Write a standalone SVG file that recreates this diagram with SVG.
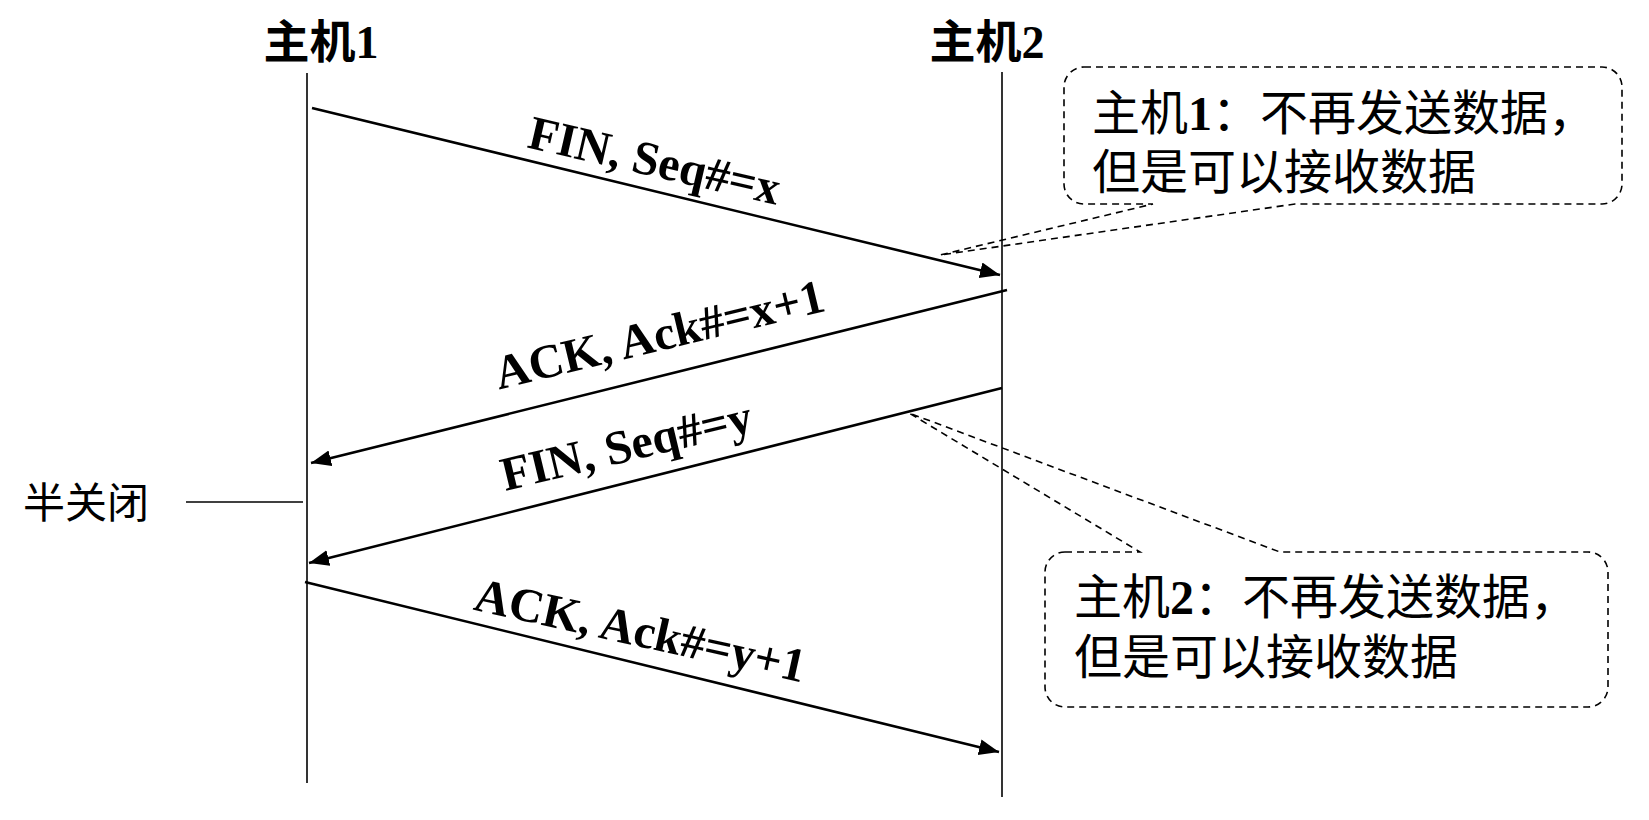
<svg xmlns="http://www.w3.org/2000/svg" width="1649" height="820" viewBox="0 0 1649 820">
<style>
.cjk{font-family:"Liberation Serif","Noto Sans CJK SC",serif;fill:#000}
.ttl{font-weight:bold;font-size:46px;text-anchor:middle}
.b{font-weight:bold}
.lbl{font-family:"Liberation Serif","Noto Sans CJK SC",serif;font-weight:bold;font-size:48px;fill:#000;text-anchor:middle}
.life{stroke:#000;stroke-width:1.6;fill:none}
.msg{stroke:#000;stroke-width:2.6;fill:none;marker-end:url(#ah)}
.call{stroke:#000;stroke-width:1.6;fill:none;stroke-dasharray:7 5}
</style>
<defs>
<marker id="ah" markerUnits="userSpaceOnUse" markerWidth="24" markerHeight="18" refX="20" refY="8" orient="auto">
<path d="M0,0 L20,8 L0,16 Z" fill="#000"/>
</marker>
</defs>
<rect width="1649" height="820" fill="#fff"/>
<g id="host1">
<text class="cjk ttl" x="321" y="58">主机1</text>
<line class="life" x1="307" y1="73" x2="307" y2="783"/>
</g>
<g id="host2">
<text class="cjk ttl" x="987" y="58">主机2</text>
<line class="life" x1="1002" y1="72" x2="1002" y2="797"/>
</g>
<g id="halfclose">
<text class="cjk" x="23" y="518" font-size="42">半关闭</text>
<line class="life" x1="186" y1="502" x2="303" y2="502"/>
</g>
<g id="connectors">
<line class="msg" x1="312" y1="108" x2="1000" y2="275"/>
<line class="msg" x1="1007" y1="290" x2="311" y2="463"/>
<line class="msg" x1="1002" y1="388" x2="309" y2="563"/>
<line class="msg" x1="305" y1="582" x2="999" y2="752"/>
<text class="lbl" transform="translate(651,176) rotate(13)">FIN, Seq#=x</text>
<text class="lbl" transform="translate(663,350) rotate(-13.5)">ACK, Ack#=x+1</text>
<text class="lbl" transform="translate(630,461) rotate(-13.5)">FIN, Seq#=y</text>
<text class="lbl" transform="translate(637,646) rotate(12.5)">ACK, Ack#=y+1</text>
</g>
<g id="callout1">
<path class="call" d="M1084,67 H1602 A20,20 0 0 1 1622,87 V184 A20,20 0 0 1 1602,204 H1295 L940,255 L1153,204 H1084 A20,20 0 0 1 1064,184 V87 A20,20 0 0 1 1084,67 Z"/>
<text class="cjk" x="1092" y="130" font-size="48">主机<tspan class="b">1</tspan>：不再发送数据，</text>
<text class="cjk" x="1092" y="189" font-size="48">但是可以接收数据</text>
</g>
<g id="callout2">
<path class="call" d="M1065,552 H1140 L909,413 L1280,552 H1588 A20,20 0 0 1 1608,572 V687 A20,20 0 0 1 1588,707 H1065 A20,20 0 0 1 1045,687 V572 A20,20 0 0 1 1065,552 Z"/>
<text class="cjk" x="1074" y="614" font-size="48">主机<tspan class="b">2</tspan>：不再发送数据，</text>
<text class="cjk" x="1074" y="674" font-size="48">但是可以接收数据</text>
</g>
</svg>
